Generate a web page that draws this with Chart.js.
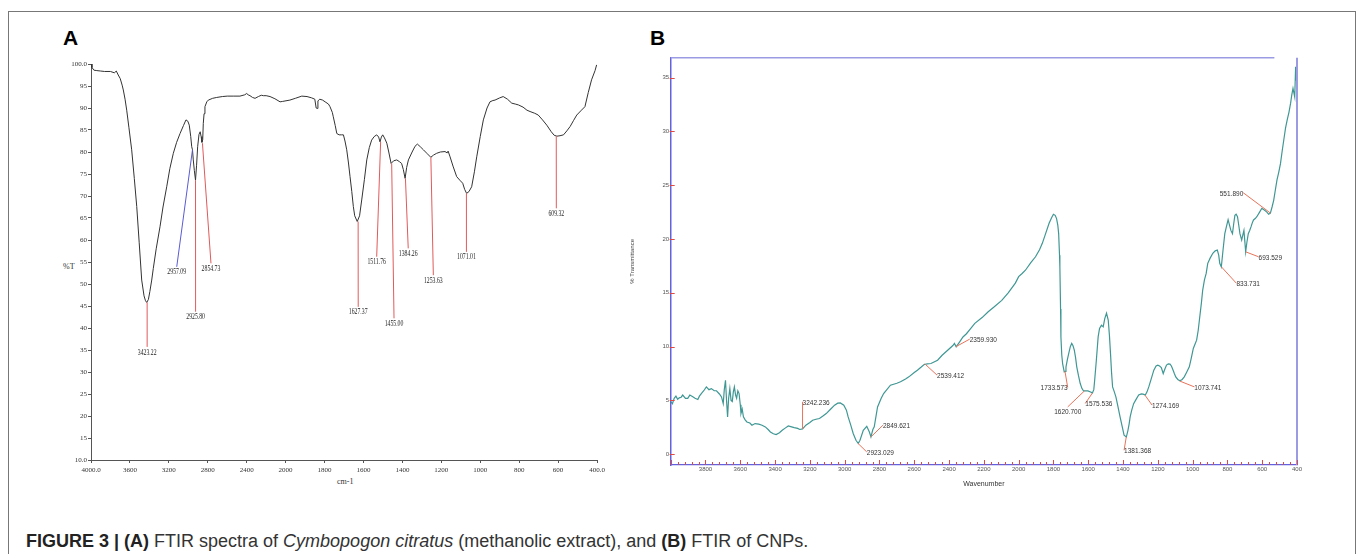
<!DOCTYPE html>
<html><head><meta charset="utf-8">
<script src="https://cdn.jsdelivr.net/npm/chart.js@4.4.0/dist/chart.umd.min.js"></script>
<style>
html,body{margin:0;padding:0;background:#fff;}
body{width:1358px;height:554px;position:relative;overflow:hidden;font-family:"Liberation Sans",Arial,sans-serif;}
#frame{position:absolute;left:8px;top:11px;width:1348px;height:600px;border:1.5px solid #777;border-bottom:none;box-sizing:border-box;}
.plab{position:absolute;font-weight:bold;font-size:21px;line-height:21px;color:#000;}
.ser{position:absolute;font-family:"Liberation Serif","Times New Roman",serif;font-size:8px;line-height:10px;color:#333;white-space:nowrap;}
#cap{position:absolute;left:26px;top:531px;font-size:18px;line-height:20px;color:#333;white-space:nowrap;}
#cap b{color:#222;}
.box{position:absolute;}
</style></head>
<body>
<div id="frame"></div>
<div class="plab" style="left:63px;top:27px;">A</div>
<div class="plab" style="left:650px;top:27px;">B</div>
<div class="ser" style="left:63px;top:262px;">%T</div>
<div class="ser" style="left:337px;top:477px;">cm-1</div>
<div class="box" style="left:20px;top:40px;width:600px;height:460px;"><canvas id="ca" width="600" height="460"></canvas></div>
<div class="box" style="left:610px;top:40px;width:730px;height:460px;"><canvas id="cb" width="730" height="460"></canvas></div>
<div id="cap"><b>FIGURE 3 | (A)</b> FTIR spectra of <i>Cymbopogon citratus</i> (methanolic extract), and <b>(B)</b> FTIR of CNPs.</div>
<script>
// ---------- Panel A data ----------
const wnA = [4000,3990,3970,3940,3900,3860,3800,3760,3740,3720,3700,3680,3668,3650,3633,3610,3582,3555,3530,3505,3479,3455,3440,3427,3410,3395,3376,3360,3330,3291,3260,3222,3190,3154,3120,3085,3050,3024,3005,2990,2975,2965,2957,2949,2938,2926,2915,2904,2890,2878,2868,2860,2852,2846,2838,2829,2810,2794,2750,2708,2650,2600,2538,2469,2420,2400,2385,2366,2340,2314,2280,2250,2229,2200,2160,2110,2057,2030,1978,1950,1917,1890,1866,1850,1843,1838,1834,1825,1810,1797,1780,1772,1760,1755,1745,1737,1725,1712,1703,1695,1686,1677,1669,1660,1652,1645,1632,1620,1609,1595,1583,1570,1558,1545,1532,1522,1515,1508,1501,1492,1480,1470,1458,1445,1429,1415,1404,1395,1386,1378,1369,1350,1335,1323,1308,1292,1272,1254,1240,1224,1205,1181,1170,1165,1155,1140,1121,1105,1090,1080,1070,1058,1044,1030,1018,1000,984,965,950,935,924,900,882,860,838,820,804,780,760,744,720,702,680,658,635,620,606,590,572,555,538,520,504,480,462,445,428,410,402];
const tA = [100.0,99.2,98.6,98.5,98.4,98.3,98.3,98.0,98.4,97.5,96.7,95.2,94.1,92.0,89.5,85.5,80.5,74.0,67.6,59.5,50.9,47.3,46.2,45.8,46.5,48.3,50.9,53.5,58.0,63.0,67.5,72.1,76.2,79.7,82.2,84.2,86.0,87.3,87.0,86.1,83.5,81.2,80.5,78.2,75.8,73.6,77.0,81.2,84.0,84.6,83.5,82.2,82.8,86.5,88.7,90.3,91.4,91.8,92.2,92.4,92.6,92.7,92.7,92.7,93.0,93.3,93.0,92.8,92.4,92.2,92.6,92.9,92.8,92.8,92.6,92.1,91.4,91.5,91.8,92.2,92.7,92.6,92.3,92.0,90.0,89.9,91.6,92.0,91.8,91.4,90.9,90.3,89.0,88.0,86.0,84.2,83.9,83.9,83.9,82.5,80.5,77.5,74.4,71.0,67.6,65.5,64.2,65.5,69.1,73.8,78.2,81.0,82.7,83.5,83.9,83.4,82.3,83.4,83.9,83.2,82.0,80.0,77.4,78.0,78.2,77.8,77.4,76.0,74.0,76.5,78.2,80.0,81.3,81.8,81.2,80.5,79.6,78.8,79.3,79.7,80.0,80.1,79.8,80.2,78.9,76.8,74.4,73.6,72.9,71.5,70.6,71.0,72.1,75.5,78.9,83.5,87.3,90.0,91.4,91.7,91.8,92.3,92.6,92.0,91.1,90.9,90.7,90.2,89.5,89.2,88.8,88.4,87.3,86.1,84.6,83.8,83.6,83.7,83.9,84.8,85.8,87.2,88.4,89.5,90.3,93.5,96.4,98.5,99.8];
const xTickValuesA = [4000,3600,3200,2800,2400,2000,1800,1600,1400,1200,1000,800,600,400];
const xTickLabelsA = ['4000.0','3600','3200','2800','2400','2000','1800','1600','1400','1200','1000','800','600','400.0'];
const yTickValuesA = [10,15,20,25,30,35,40,45,50,55,60,65,70,75,80,85,90,95,100];
const yTickLabelsA = ['10.0','15','20','25','30','35','40','45','50','55','60','65','70','75','80','85','90','95','100.0'];
// peak annotations A
const peakLabelsA = ['3423.22','2957.09','2925.80','2854.73','1627.37','1511.76','1455.00','1384.26','1253.63','1071.01','609.32'];
const peakWnA     = [3423.22,2957.09,2925.80,2854.73,1627.37,1511.76,1455.00,1384.26,1253.63,1071.01,609.32];
const peakTA      = [45.8,80.5,73.6,82.0,64.2,82.3,77.4,74.0,78.8,70.6,83.6];
const leadWnA     = [3423,3119,2925,2767,1627,1532,1443,1370,1241,1071,609];
const leadTA      = [35.7,53.9,43.7,54.7,44.8,56.2,42.2,58.1,52.0,57.3,67.2];

// ---------- Panel B data ----------
const wnB = [4000,3990,3980,3970,3960,3951,3940,3931,3915,3902,3890,3873,3860,3844,3835,3824,3810,3795,3780,3766,3750,3737,3720,3708,3698,3692,3685,3679,3673,3667,3660,3653,3646,3640,3634,3627,3621,3614,3607,3600,3596,3589,3582,3572,3562,3545,3533,3515,3494,3475,3456,3440,3427,3410,3394,3375,3359,3340,3324,3305,3290,3270,3258,3242,3223,3200,3184,3165,3145,3125,3106,3080,3058,3040,3025,3005,2990,2980,2965,2951,2935,2922,2912,2893,2873,2858,2849,2838,2830,2811,2790,2776,2737,2700,2679,2650,2631,2600,2582,2560,2543,2525,2504,2466,2440,2408,2378,2369,2359,2339,2320,2300,2275,2252,2210,2175,2140,2097,2060,2019,2000,1980,1961,1930,1903,1880,1864,1845,1825,1810,1800,1790,1782,1775,1770,1765,1763,1759,1757,1752,1747,1738,1733,1728,1720,1712,1703,1695,1688,1680,1673,1666,1656,1646,1636,1627,1615,1602,1590,1576,1568,1563,1553,1543,1535,1524,1514,1505,1495,1485,1478,1472,1466,1460,1450,1441,1430,1417,1405,1394,1381,1372,1365,1359,1350,1339,1325,1310,1295,1285,1272,1262,1252,1238,1223,1210,1200,1190,1180,1169,1160,1150,1140,1130,1122,1116,1105,1097,1085,1073,1060,1048,1035,1019,1008,996,987,977,968,961,950,942,932,922,913,900,884,870,858,850,844,835,825,815,805,796,788,780,771,764,757,750,742,735,728,718,711,705,700,695,688,680,672,664,657,650,640,631,615,602,588,573,563,553,543,534,524,515,505,495,485,476,466,456,446,437,430,423,418,413,408,404,400];
const tB = [4.9,4.7,5.2,5.4,5.1,5.24,5.3,5.5,5.2,5.2,5.5,5.35,5.2,5.09,5.4,5.64,5.9,6.26,6.0,6.1,5.9,5.9,5.6,5.33,4.7,6.0,6.88,5.0,3.47,5.2,6.1,5.0,4.9,5.8,6.26,5.5,5.2,5.9,5.64,4.6,3.78,4.2,3.47,3.2,3.0,2.9,2.7,2.85,2.8,2.7,2.54,2.3,2.07,1.9,1.83,2.0,2.23,2.45,2.63,2.55,2.48,2.4,2.3,2.35,2.7,2.95,3.16,3.25,3.32,3.55,3.78,4.2,4.56,4.75,4.77,4.56,4.1,3.47,2.7,1.93,1.3,1.0,1.3,2.23,2.6,2.07,1.61,2.3,2.54,4.4,5.2,5.64,6.42,6.6,6.73,7.0,7.19,7.6,7.81,8.1,8.34,8.4,8.43,8.74,9.2,9.67,10.1,10.3,9.98,10.45,10.9,11.2,11.7,12.16,12.7,13.24,13.7,14.3,15.0,15.9,16.5,16.8,17.1,17.8,18.35,19.0,19.6,20.5,21.46,22.0,22.3,22.2,21.9,21.3,20.5,18.5,17.4,13.5,10.9,9.2,8.4,7.66,7.7,8.1,8.8,9.37,10.0,10.3,10.1,9.67,9.0,8.12,7.3,6.57,6.1,5.89,5.9,5.89,5.8,5.7,6.0,6.88,8.8,10.9,11.7,12.0,11.84,12.6,13.1,12.47,11.0,9.37,7.6,6.26,5.8,5.33,4.5,3.47,2.6,1.77,1.6,2.2,2.8,3.47,4.1,4.7,5.1,5.5,5.6,5.58,5.5,5.8,6.26,7.0,7.81,8.2,8.28,8.2,8.06,7.5,7.9,8.28,8.4,8.37,8.2,7.97,7.5,7.19,6.95,6.82,6.95,7.19,7.6,8.12,8.9,9.83,10.2,10.6,11.5,12.47,14.0,15.26,16.2,16.8,17.74,18.2,18.67,18.9,18.98,18.5,17.74,17.4,19.0,20.5,21.2,21.8,21.3,20.8,20.5,21.4,22.2,22.3,22.07,21.3,20.5,19.9,20.4,20.8,19.8,18.8,19.7,20.5,20.8,21.15,21.5,21.77,21.9,22.07,22.5,22.86,22.7,22.5,22.3,22.4,23.0,23.6,24.6,25.5,26.2,27.0,28.2,29.2,30.3,31.1,31.8,32.6,33.4,34.0,33.6,33.2,36.0,34.8,34.5];
const xTickValuesB = [3800,3600,3400,3200,3000,2800,2600,2400,2200,2000,1800,1600,1400,1200,1000,800,600,400];
const yTickValuesB = [0,5,10,15,20,25,30,35];
// peak annotations B
const peakLabelsB = ['3242.236','2923.029','2849.621','2539.412','2359.930','1733.573','1620.700','1575.536','1381.368','1274.169','1073.741','833.731','693.529','551.890'];
const peakWnB     = [3242.236,2923.029,2849.621,2539.412,2359.930,1733.573,1620.700,1575.536,1381.368,1274.169,1073.741,833.731,693.529,551.890];
const peakTB      = [2.35,1.0,1.6,8.4,10.0,7.7,5.9,5.7,1.6,5.5,6.8,17.4,18.8,22.4];
const leadWnB     = [3242,2873,2780,2469,2281,1718,1718,1617,1394,1233,990,748,621,709];
const leadTB      = [4.87,0.21,2.7,7.35,10.7,6.2,4.4,4.72,0.37,4.56,6.26,15.88,18.35,24.3];
const labelSideB  = ['r','r','r','r','r','l','b','r','r','r','r','r','r','l'];

// ---------- piecewise FTIR axis (compressed above 2000 cm-1) ----------
class FtirScale extends Chart.LinearScale {
  _u(v){ return v >= 2000 ? (4000 - v) / 400 : 5 + (2000 - v) / 200; }
  getPixelForValue(v){ return this.getPixelForDecimal(this._u(v) / 13); }
  getValueForPixel(p){ const u = this.getDecimalForPixel(p) * 13; return u <= 5 ? 4000 - 400 * u : 2000 - 200 * (u - 5); }
}
FtirScale.id = 'ftir';
FtirScale.defaults = Chart.LinearScale.defaults;
Chart.register(FtirScale);

const annotA = {
  id: 'annotA',
  afterDatasetsDraw(chart){
    const {ctx, scales:{x, y}} = chart;
    ctx.save();
    peakLabelsA.forEach((lab, i) => {
      const x0 = x.getPixelForValue(peakWnA[i]), y0 = y.getPixelForValue(peakTA[i]);
      const x1 = x.getPixelForValue(leadWnA[i]), y1 = y.getPixelForValue(leadTA[i]);
      ctx.strokeStyle = i === 1 ? '#5a5ad6' : '#e05a5a';
      ctx.lineWidth = 1;
      ctx.beginPath(); ctx.moveTo(x0, y0); ctx.lineTo(x1, y1); ctx.stroke();
      ctx.save();
      ctx.translate(x1, y1 + 1.5);
      ctx.scale(0.72, 1);
      ctx.font = '8px "Liberation Serif", serif';
      ctx.fillStyle = '#222';
      ctx.textAlign = 'center'; ctx.textBaseline = 'top';
      ctx.fillText(lab, 0, 0);
      ctx.restore();
    });
    ctx.restore();
  }
};

const annotB = {
  id: 'annotB',
  afterDatasetsDraw(chart){
    const {ctx, scales:{x, y}} = chart;
    ctx.save();
    peakLabelsB.forEach((lab, i) => {
      const x0 = x.getPixelForValue(peakWnB[i]), y0 = y.getPixelForValue(peakTB[i]);
      const x1 = x.getPixelForValue(leadWnB[i]), y1 = y.getPixelForValue(leadTB[i]);
      ctx.strokeStyle = '#e8735a';
      ctx.lineWidth = 1;
      ctx.beginPath(); ctx.moveTo(x0, y0); ctx.lineTo(x1, y1); ctx.stroke();
      ctx.font = '6.5px "Liberation Sans", Arial, sans-serif';
      ctx.fillStyle = '#333';
      const s = labelSideB[i];
      if (s === 'b') { ctx.textAlign = 'center'; ctx.textBaseline = 'top'; ctx.fillText(lab, x1, y1 + 2); }
      else { ctx.textAlign = s === 'l' ? 'right' : 'left'; ctx.textBaseline = 'middle'; ctx.fillText(lab, x1, y1 + 1); }
    });
    ctx.restore();
  }
};

const decorB = {
  id: 'decorB',
  afterDraw(chart){
    const {ctx, chartArea:a, scales:{x, y}} = chart;
    ctx.save();
    ctx.strokeStyle = '#9b9be3';
    ctx.lineWidth = 1.5;
    ctx.beginPath(); ctx.moveTo(a.left, a.top); ctx.lineTo(x.getPixelForValue(530), a.top); ctx.stroke();
    ctx.lineWidth = 2;
    ctx.beginPath(); ctx.moveTo(a.right, a.top); ctx.lineTo(a.right, a.bottom); ctx.stroke();
    ctx.strokeStyle = '#e04848';
    ctx.lineWidth = 1;
    for (let w = 400; w <= 4000; w += 40) {
      const px = Math.round(x.getPixelForValue(w)) + 0.5;
      const len = (w % 200 === 0) ? 5 : 3;
      ctx.beginPath(); ctx.moveTo(px, a.bottom); ctx.lineTo(px, a.bottom - len); ctx.stroke();
    }
    yTickValuesB.forEach(v => {
      const py = Math.round(y.getPixelForValue(v)) + 0.5;
      ctx.beginPath(); ctx.moveTo(a.left - 1, py); ctx.lineTo(a.left + 4, py); ctx.stroke();
    });
    ctx.restore();
  }
};

new Chart(document.getElementById('ca'), {
  type: 'line',
  data: { datasets: [{ data: wnA.map((w, i) => ({x: w, y: tA[i]})), borderColor: '#333', borderWidth: 1, pointRadius: 0, tension: 0, fill: false }] },
  options: {
    responsive: false, animation: false, maintainAspectRatio: false,
    layout: { padding: { left: 0, top: 24, right: 23, bottom: 0 } },
    plugins: { legend: { display: false }, tooltip: { enabled: false } },
    scales: {
      x: {
        type: 'ftir', min: 400, max: 4000, reverse: false,
        afterBuildTicks: s => { s.ticks = xTickValuesA.map(v => ({value: v})); },
        afterFit: s => { s.height = 40; },
        ticks: { autoSkip: false, maxRotation: 0, padding: 3, color: '#333',
                 font: { family: '"Liberation Serif", serif', size: 7 },
                 callback: (v, i) => xTickLabelsA[i] },
        grid: { display: true, drawOnChartArea: false, drawTicks: true, tickLength: 3, color: '#555' },
        border: { display: true, color: '#555', width: 1 }
      },
      y: {
        type: 'linear', min: 10, max: 100,
        afterBuildTicks: s => { s.ticks = yTickValuesA.map(v => ({value: v})); },
        afterFit: s => { s.width = 71; },
        ticks: { autoSkip: false, padding: 1, color: '#333',
                 font: { family: '"Liberation Serif", serif', size: 7 },
                 callback: (v, i) => yTickLabelsA[i] },
        grid: { display: true, drawOnChartArea: false, drawTicks: true, tickLength: 3, color: '#555' },
        border: { display: true, color: '#555', width: 1 }
      }
    }
  },
  plugins: [annotA]
});

new Chart(document.getElementById('cb'), {
  type: 'line',
  data: { datasets: [{ data: wnB.map((w, i) => ({x: w, y: tB[i]})), borderColor: '#3f9794', borderWidth: 1.2, pointRadius: 0, tension: 0, fill: false }] },
  options: {
    responsive: false, animation: false, maintainAspectRatio: false,
    layout: { padding: { left: 0, top: 17.7, right: 43, bottom: 0 } },
    plugins: { legend: { display: false }, tooltip: { enabled: false } },
    scales: {
      x: {
        type: 'linear', min: 400, max: 4000, reverse: true,
        afterBuildTicks: s => { s.ticks = xTickValuesB.map(v => ({value: v})); },
        afterFit: s => { s.height = 35; },
        ticks: { autoSkip: false, maxRotation: 0, padding: 1, color: '#555',
                 font: { family: '"Liberation Sans", Arial, sans-serif', size: 6 },
                 callback: v => String(v) },
        grid: { display: true, drawOnChartArea: false, drawTicks: false },
        border: { display: true, color: '#6262e0', width: 1.3 },
        title: { display: true, text: 'Wavenumber', color: '#333',
                 font: { family: '"Liberation Sans", Arial, sans-serif', size: 7 },
                 padding: { top: 0, bottom: 11.8 } }
      },
      y: {
        type: 'linear', min: -1, max: 36.85,
        afterBuildTicks: s => { s.ticks = yTickValuesB.map(v => ({value: v})); },
        afterFit: s => { s.width = 60.7; },
        ticks: { autoSkip: false, padding: 1.5, color: '#555',
                 font: { family: '"Liberation Sans", Arial, sans-serif', size: 6 },
                 callback: v => String(v) },
        grid: { display: true, drawOnChartArea: false, drawTicks: false },
        border: { display: true, color: '#6262e0', width: 1.5 },
        title: { display: true, text: '% Transmittance', color: '#444',
                 font: { family: '"Liberation Sans", Arial, sans-serif', size: 6 },
                 padding: { top: 18.4, bottom: 0 } }
      }
    }
  },
  plugins: [annotB, decorB]
});
</script>
</body></html>
